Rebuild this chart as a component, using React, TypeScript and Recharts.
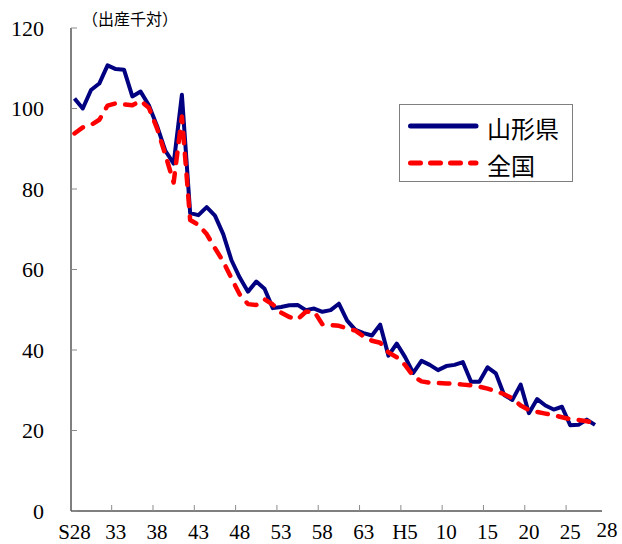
import { LineChart, Line, XAxis, YAxis, Legend } from 'recharts';

const years = [
  'S28', 'S29', 'S30', 'S31', 'S32', 'S33', 'S34', 'S35', 'S36', 'S37',
  'S38', 'S39', 'S40', 'S41', 'S42', 'S43', 'S44', 'S45', 'S46', 'S47',
  'S48', 'S49', 'S50', 'S51', 'S52', 'S53', 'S54', 'S55', 'S56', 'S57',
  'S58', 'S59', 'S60', 'S61', 'S62', 'S63', 'H1', 'H2', 'H3', 'H4',
  'H5', 'H6', 'H7', 'H8', 'H9', 'H10', 'H11', 'H12', 'H13', 'H14',
  'H15', 'H16', 'H17', 'H18', 'H19', 'H20', 'H21', 'H22', 'H23', 'H24',
  'H25', 'H26', 'H27', 'H28',
];

// 山形県
const yamagata = [
  102.5, 100.0, 104.6, 106.2, 110.7, 109.8, 109.6, 103.0, 104.2, 100.8,
  95.6, 89.5, 86.3, 103.4, 74.0, 73.5, 75.5, 73.4, 68.8, 62.3,
  58.0, 54.5, 57.0, 55.2, 50.4, 50.7, 51.1, 51.2, 49.9, 50.3,
  49.5, 49.9, 51.5, 47.3, 45.0, 44.2, 43.6, 46.3, 38.6, 41.6,
  38.3, 34.3, 37.3, 36.3, 35.0, 36.0, 36.3, 37.0, 32.1, 32.1,
  35.7, 34.2, 28.8, 27.6, 31.4, 24.3, 27.8, 26.2, 25.2, 25.9,
  21.3, 21.4, 22.7, 21.4,
];

// 全国
const zenkoku = [
  93.8, 95.3, 95.9, 97.2, 100.7, 101.3, 101.0, 100.8, 101.9, 100.2,
  95.0, 88.5, 81.6, 98.0, 72.3, 71.1, 68.8, 65.3, 62.0, 57.8,
  53.8, 51.4, 51.2, 52.6, 51.3, 49.3, 48.2, 47.6, 49.5, 49.6,
  46.4, 46.2, 46.0, 45.4, 44.8, 43.4, 42.3, 41.8, 39.4, 38.2,
  36.3, 33.5, 32.2, 31.9, 31.8, 31.7, 31.6, 31.4, 31.2, 30.9,
  30.4, 29.8, 29.0, 28.0, 26.2, 25.1, 24.6, 24.2, 23.8, 23.3,
  22.8, 22.6, 22.3, 21.9,
];

const tickYears = ['S28', 'S33', 'S38', 'S43', 'S48', 'S53', 'S58', 'S63', 'H5', 'H10', 'H15', 'H20', 'H25', 'H28'];
const tickLabels = ['S28', '33', '38', '43', '48', '53', '58', '63', 'H5', '10', '15', '20', '25', '28'];
const yTicks = [0, 20, 40, 60, 80, 100, 120];

const data = years.map((year, i) => ({ year, yamagata: yamagata[i], zenkoku: zenkoku[i] }));

const PAD_L = 3.5;
const PAD_R = 7;
const PLOT_W = 531;
const halfStep = (PLOT_W - PAD_L - PAD_R) / (years.length - 1) / 2;

const serif = '"Liberation Serif", "DejaVu Serif", serif';
const jp = '"Noto Sans CJK JP", sans-serif';

const XTick = (props: any) => {
  const { x, y, payload } = props;
  const idx = tickYears.indexOf(payload.value);
  const label = tickLabels[idx];
  const last = payload.value === 'H28';
  return (
    <g>
      {idx > 0 && !last && (
        <line x1={x - halfStep} x2={x - halfStep} y1={y} y2={y - 6} stroke="#8c8c8c" strokeWidth={1} />
      )}
      <text
        x={last ? x + 12 : x}
        y={last ? y + 19 : y + 21}
        textAnchor="middle"
        dominantBaseline="central"
        fontFamily={serif}
        fontSize={21}
        fill="#000"
      >
        {label}
      </text>
    </g>
  );
};

const YTick = (props: any) => {
  const { x, y, payload } = props;
  return (
    <g>
      <line x1={x} x2={x + 6} y1={y} y2={y} stroke="#8c8c8c" strokeWidth={1} />
      <text x={x - 27} y={y} textAnchor="end" dominantBaseline="central" fontFamily={serif} fontSize={22} fill="#000">
        {payload.value}
      </text>
    </g>
  );
};

const LegendBox = () => (
  <svg width={174} height={78} style={{ display: 'block' }}>
    <rect x={0.5} y={0.5} width={173} height={77} fill="#fff" stroke="#7f7f7f" strokeWidth={1} />
    <line x1={11.5} x2={77} y1={22} y2={22} stroke="#000080" strokeWidth={5} strokeLinecap="round" />
    <text x={88} y={23} dominantBaseline="central" fontFamily={jp} fontSize={24} fill="#000">山形県</text>
    <line x1={11.5} x2={77} y1={59} y2={59} stroke="#ff0000" strokeWidth={5} strokeLinecap="round" strokeDasharray="10 10" />
    <text x={88} y={60} dominantBaseline="central" fontFamily={jp} fontSize={24} fill="#000">全国</text>
  </svg>
);

export default function App() {
  return (
    <div style={{ position: 'absolute', left: 0, top: 0, width: 622, height: 544, background: '#fff' }}>
      <LineChart width={622} height={544} data={data} margin={{ top: 28, right: 20, bottom: 0, left: 0 }}>
        <XAxis
          dataKey="year"
          ticks={tickYears}
          interval={0}
          height={33}
          padding={{ left: PAD_L, right: PAD_R }}
          axisLine={{ stroke: '#000', strokeWidth: 1 }}
          tickLine={false}
          tickSize={0}
          tickMargin={0}
          tick={<XTick />}
        />
        <YAxis
          domain={[0, 120]}
          ticks={yTicks}
          width={71}
          axisLine={{ stroke: '#000', strokeWidth: 1 }}
          tickLine={false}
          tickSize={0}
          tickMargin={0}
          tick={<YTick />}
        />
        <Legend
          layout="vertical"
          align="center"
          verticalAlign="middle"
          wrapperStyle={{ left: 399, top: 104, width: 174, height: 78 }}
          content={() => <LegendBox />}
        />
        <Line
          type="linear"
          dataKey="yamagata"
          stroke="#000080"
          strokeWidth={4}
          strokeLinejoin="round"
          dot={false}
          isAnimationActive={false}
        />
        <Line
          type="linear"
          dataKey="zenkoku"
          stroke="#ff0000"
          strokeWidth={4.5}
          strokeDasharray="10.5 10.5"
          strokeLinecap="round"
          strokeLinejoin="round"
          dot={false}
          isAnimationActive={false}
        />
      </LineChart>
      <div
        style={{
          position: 'absolute',
          left: 82,
          top: 8,
          fontFamily: jp,
          fontSize: 16,
          lineHeight: '20px',
          whiteSpace: 'nowrap',
        }}
      >
        （出産千対）
      </div>
    </div>
  );
}
